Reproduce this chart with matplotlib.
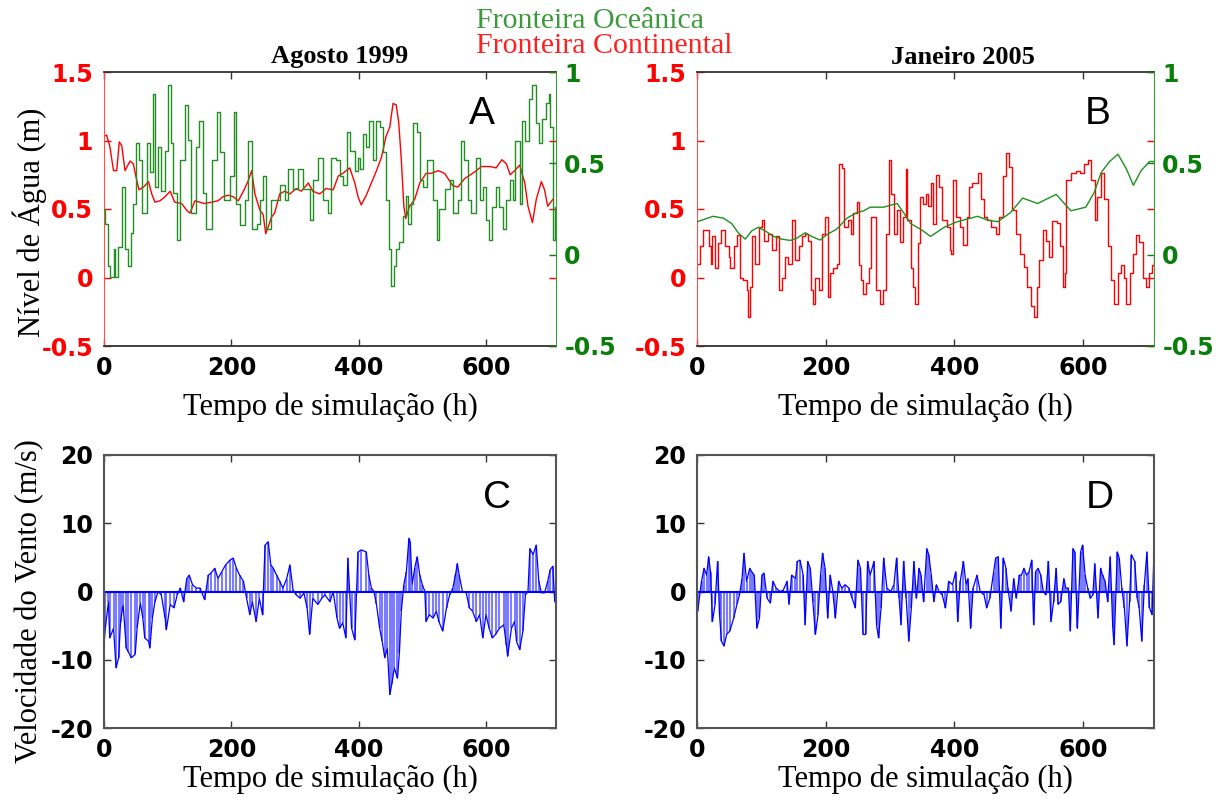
import matplotlib
matplotlib.use("Agg")
import matplotlib.pyplot as plt

# ---------------------------------------------------------------- data
# Water level (m) at the continental boundary (left axis) and at the
# oceanic boundary (right axis), simulation time in hours.
t_cont_aug = [0, 4, 9, 15, 20, 24, 28, 33, 41, 46, 50, 55, 62, 70, 75, 80, 88, 96, 104, 111,
              122, 130, 135, 143, 150, 158, 169, 179, 187, 195, 203, 211, 219, 226, 232, 237,
              245, 250, 254, 258, 263, 268, 276, 284, 292, 302, 310, 321, 328, 339, 349, 360,
              368, 375, 386, 394, 399, 404, 412, 420, 428, 436, 443, 449, 454, 459, 463, 467,
              471, 474, 480, 488, 496, 506, 514, 525, 535, 548, 556, 566, 579, 593, 606, 616,
              625, 632, 638, 645, 653, 661, 666, 673, 679, 687, 692, 697, 705]
h_cont_aug = [1.03, 1.04, 0.96, 0.78, 0.78, 0.99, 0.96, 0.78, 0.85, 0.83, 0.74, 0.64, 0.66, 0.70,
              0.61, 0.55, 0.56, 0.59, 0.63, 0.55, 0.54, 0.49, 0.47, 0.56, 0.55, 0.54, 0.55, 0.56,
              0.59, 0.60, 0.59, 0.56, 0.63, 0.70, 0.78, 0.61, 0.49, 0.46, 0.32, 0.37, 0.44, 0.47,
              0.61, 0.63, 0.61, 0.65, 0.63, 0.69, 0.63, 0.61, 0.65, 0.64, 0.74, 0.76, 0.80, 0.69,
              0.59, 0.53, 0.60, 0.69, 0.78, 0.88, 1.03, 1.10, 1.27, 1.26, 1.13, 0.86, 0.52, 0.43,
              0.52, 0.57, 0.69, 0.76, 0.76, 0.78, 0.76, 0.67, 0.66, 0.72, 0.76, 0.81, 0.81, 0.80,
              0.86, 0.83, 0.75, 0.78, 0.82, 0.69, 0.52, 0.40, 0.57, 0.70, 0.64, 0.52, 0.57]

t_ocean_aug = [0, 2, 7, 9, 15, 17, 22, 28, 33, 38, 43, 46, 51, 55, 59, 67, 72, 77, 80, 85, 90,
               96, 101, 105, 109, 114, 119, 127, 132, 137, 145, 150, 156, 161, 169, 177, 182,
               188, 198, 204, 208, 213, 221, 226, 232, 240, 245, 250, 255, 263, 271, 276, 284,
               289, 297, 305, 313, 323, 328, 336, 344, 352, 357, 365, 370, 375, 381, 386, 394,
               399, 402, 407, 412, 417, 423, 428, 433, 438, 443, 448, 451, 456, 459, 464, 470,
               475, 477, 483, 486, 491, 496, 501, 507, 512, 517, 523, 527, 535, 543, 548, 556,
               561, 566, 572, 577, 585, 590, 595, 600, 605, 610, 616, 621, 627, 632, 637, 642,
               646, 653, 657, 662, 667, 672, 678, 683, 688, 694, 699, 701, 705, 708]
h_ocean_aug = [0.25, 0.17, -0.06, -0.12, 0.03, -0.12, 0.04, 0.37, 0.03, -0.06, 0.12, 0.28, 0.61,
               0.52, 0.23, 0.61, 0.45, 0.88, 0.37, 0.59, 0.35, 0.57, 0.93, 0.61, 0.34, 0.08, 0.52,
               0.82, 0.63, 0.23, 0.59, 0.73, 0.34, 0.14, 0.52, 0.78, 0.56, 0.30, 0.43, 0.78, 0.28,
               0.16, 0.30, 0.62, 0.14, 0.17, 0.30, 0.43, 0.14, 0.30, 0.30, 0.38, 0.30, 0.47, 0.36,
               0.47, 0.36, 0.19, 0.41, 0.53, 0.30, 0.23, 0.53, 0.52, 0.43, 0.38, 0.67, 0.57, 0.46,
               0.53, 0.47, 0.66, 0.59, 0.73, 0.52, 0.73, 0.70, 0.56, 0.30, 0.03, -0.17, -0.06,
               0.03, 0.07, 0.21, 0.32, 0.17, 0.28, 0.72, 0.67, 0.41, 0.37, 0.52, 0.52, 0.30, 0.08,
               0.25, 0.36, 0.41, 0.23, 0.30, 0.62, 0.52, 0.30, 0.23, 0.53, 0.30, 0.37, 0.19, 0.08,
               0.26, 0.37, 0.26, 0.14, 0.30, 0.41, 0.30, 0.62, 0.28, 0.73, 0.62, 0.85, 0.93, 0.72,
               0.61, 0.74, 0.83, 0.88, 0.70, 0.08, 0.26]

t_cont_jan = [0, 5, 9, 15, 19, 21, 24, 28, 33, 38, 44, 49, 52, 57, 62, 67, 72, 77, 79, 83, 86,
              90, 96, 101, 104, 111, 116, 123, 127, 132, 137, 142, 147, 153, 158, 163, 168, 173,
              177, 180, 184, 189, 194, 199, 203, 206, 211, 217, 221, 225, 229, 234, 239, 243,
              248, 251, 255, 258, 262, 267, 270, 275, 278, 284, 289, 293, 298, 302, 306, 311,
              315, 320, 324, 327, 332, 336, 339, 343, 347, 351, 355, 359, 363, 367, 371, 376,
              381, 388, 393, 395, 398, 403, 409, 414, 419, 423, 428, 436, 441, 446, 451, 456,
              464, 469, 475, 480, 485, 490, 495, 502, 508, 513, 519, 523, 528, 532, 537, 542,
              547, 552, 559, 564, 568, 571, 574, 581, 589, 595, 602, 607, 612, 618, 622, 628,
              633, 638, 643, 648, 654, 659, 663, 667, 672, 677, 682, 687, 693, 698, 703, 707, 710]
h_cont_jan = [0.10, 0.23, 0.35, 0.35, 0.23, 0.10, 0.30, 0.07, 0.25, 0.35, 0.23, 0.15, 0.07, 0.23,
              0.31, 0.00, -0.02, -0.09, -0.29, -0.07, 0.30, 0.10, 0.37, 0.42, 0.27, 0.32, 0.20,
              0.30, -0.09, 0.00, 0.15, 0.10, 0.42, 0.13, 0.23, 0.30, 0.32, 0.27, -0.09, -0.19,
              0.00, -0.09, 0.32, 0.44, -0.14, 0.03, 0.07, 0.10, 0.83, 0.80, 0.37, 0.42, 0.32,
              0.47, 0.55, 0.09, -0.02, -0.12, -0.04, 0.07, 0.44, 0.44, -0.09, -0.19, -0.09, 0.32,
              0.86, 0.61, 0.32, 0.49, 0.26, 0.44, 0.79, 0.42, 0.07, -0.07, -0.19, 0.25, 0.59,
              0.54, 0.61, 0.52, 0.69, 0.39, 0.75, 0.66, 0.42, 0.37, 0.20, 0.17, 0.71, 0.44, 0.37,
              0.24, 0.44, 0.66, 0.69, 0.76, 0.57, 0.44, 0.42, 0.37, 0.32, 0.44, 0.74, 0.91, 0.81,
              0.49, 0.32, 0.17, 0.08, -0.07, -0.21, -0.29, -0.07, 0.13, 0.35, 0.27, 0.15, 0.41,
              0.40, 0.23, -0.07, 0.03, 0.71, 0.76, 0.78, 0.76, 0.83, 0.86, 0.71, 0.42, 0.59, 0.76,
              0.57, 0.23, -0.02, -0.19, 0.03, 0.09, 0.00, -0.19, 0.03, 0.17, 0.31, 0.26, 0.00,
              -0.07, 0.03, 0.09, 0.15]

t_ocean_jan = [0, 25, 41, 54, 64, 75, 85, 95, 106, 119, 132, 145, 155, 168, 178, 191, 202, 217,
               233, 248, 259, 269, 290, 300, 311, 321, 332, 347, 363, 384, 404, 436, 451, 467,
               487, 506, 529, 558, 581, 604, 617, 628, 641, 654, 667, 678, 690, 703, 711]
h_ocean_jan = [0.18, 0.21, 0.20, 0.17, 0.12, 0.085, 0.13, 0.15, 0.13, 0.10, 0.085, 0.078, 0.09,
               0.12, 0.10, 0.08, 0.11, 0.14, 0.20, 0.23, 0.24, 0.26, 0.26, 0.27, 0.28, 0.23, 0.17,
               0.14, 0.10, 0.15, 0.18, 0.21, 0.19, 0.18, 0.23, 0.31, 0.28, 0.33, 0.24, 0.26, 0.34,
               0.45, 0.51, 0.55, 0.47, 0.38, 0.46, 0.51, 0.51]

# Wind velocity (m/s)
t_wind_aug = [0, 2, 7, 9, 15, 19, 23, 26, 30, 35, 38, 43, 49, 52, 57, 61, 64, 70, 72, 76, 80,
              85, 90, 96, 98, 104, 110, 115, 120, 125, 130, 134, 139, 145, 151, 158, 164, 168,
              174, 179, 185, 191, 198, 203, 208, 213, 219, 224, 229, 233, 239, 244, 249, 253,
              258, 262, 266, 271, 276, 281, 287, 292, 297, 302, 308, 314, 319, 323, 328, 336,
              342, 347, 355, 360, 366, 370, 375, 380, 383, 389, 394, 399, 404, 412, 416, 420,
              424, 428, 433, 437, 441, 445, 449, 452, 456, 461, 464, 467, 471, 475, 479, 481,
              484, 488, 492, 496, 500, 504, 506, 511, 517, 522, 526, 532, 538, 543, 548, 552,
              555, 558, 563, 569, 574, 579, 585, 590, 595, 600, 605, 610, 615, 621, 628, 632,
              634, 640, 645, 648, 653, 658, 662, 666, 669, 674, 679, 683, 687, 692, 697, 701,
              705, 708]
w_wind_aug = [-7.8, -5.4, -1.5, -6.8, -5.4, -11.2, -9.7, -4.4, -1.9, -8.3, -8.8, -9.7, -9.2,
              -5.4, -1.7, -3.9, -6.8, -7.3, -8.3, -3.9, -1.5, 0.0, -0.5, -3.9, -5.6, -1.9, -2.4,
              -0.5, 0.5, -1.5, 1.9, 2.4, 1.0, 0.5, 0.5, -1.2, 2.4, 2.7, 3.4, 1.9, 2.9, 3.9, 4.6,
              4.9, 3.4, 2.4, 1.5, -1.0, -3.4, -1.5, -4.4, -1.0, -3.4, 6.8, 7.3, 3.9, 3.4, 2.4,
              1.5, 0.5, 1.9, 3.9, 0.2, -0.5, -1.0, -0.2, -2.4, -6.3, -1.0, -1.9, -1.0, -0.5,
              -1.5, 0.0, -3.9, -5.4, -4.6, -6.8, 4.9, -5.4, -7.1, 5.8, 6.1, 5.8, 2.4, 0.5, 0.0,
              -1.9, -5.4, -7.3, -9.7, -8.3, -15.1, -13.6, -11.2, -12.7, -9.0, -2.9, 1.0, 2.9,
              7.8, 7.3, 1.0, 3.4, 5.1, 2.4, 1.0, 0.0, -4.4, -3.4, -3.9, -2.9, -4.4, -5.8, -2.4,
              -0.5, 0.5, 2.4, 4.1, 2.4, 0.0, -0.2, -2.4, -2.9, -4.4, -3.4, -6.8, -3.4, -5.4,
              -6.8, -6.3, -5.4, -4.9, -7.8, -9.5, -5.4, -4.4, -7.3, -8.5, -5.8, -0.5, 0.0, 6.3,
              5.4, 6.8, 1.5, -0.2, -0.2, 1.5, 3.2, 3.7, -1.5]

t_wind_jan = [1, 7, 11, 15, 18, 21, 24, 28, 32, 35, 38, 42, 46, 51, 57, 62, 66, 70, 73, 77, 82,
              85, 89, 93, 97, 101, 104, 109, 114, 118, 123, 129, 134, 140, 143, 147, 153, 156,
              160, 165, 168, 172, 176, 180, 184, 188, 192, 195, 199, 203, 207, 211, 215, 220,
              225, 230, 236, 241, 246, 250, 254, 258, 262, 265, 269, 275, 279, 282, 286, 290,
              295, 301, 306, 310, 314, 317, 321, 325, 329, 333, 337, 341, 345, 348, 352, 357,
              360, 364, 368, 372, 376, 381, 386, 391, 397, 402, 405, 409, 414, 418, 421, 425,
              429, 435, 440, 446, 450, 455, 461, 464, 468, 472, 476, 480, 483, 488, 492, 496,
              501, 504, 508, 512, 516, 520, 523, 526, 530, 534, 538, 542, 546, 550, 554, 558,
              561, 565, 570, 573, 577, 580, 584, 587, 591, 596, 599, 603, 607, 611, 615, 618,
              623, 627, 630, 634, 638, 642, 646, 648, 653, 656, 660, 664, 668, 672, 675, 680,
              684, 687, 691, 695, 699, 703, 707, 710]
w_wind_jan = [-2.9, 1.5, 3.4, 2.4, 5.1, 2.9, -4.4, -1.9, 4.4, -3.4, -7.3, -8.0, -6.3, -5.8,
              -3.9, -1.9, -0.5, 1.9, 5.6, 1.5, 3.4, 2.9, 2.4, -5.4, -3.9, 2.4, 2.7, -1.0, -1.7,
              1.5, 0.5, 0.0, 0.2, 1.5, -1.9, 2.4, 1.9, 4.4, 4.6, 2.4, -4.9, 4.4, 3.4, -1.5, -6.3,
              -3.4, 2.4, 5.6, 3.4, -3.9, 2.4, 0.0, -3.9, 1.5, 0.5, 1.0, 0.5, -1.0, -2.4, 4.6,
              3.4, -6.3, -6.3, 4.4, 2.4, 4.4, -4.9, -6.8, -2.4, 4.9, 0.5, 0.0, 1.0, 4.9, -1.0,
              -4.9, 4.4, -1.0, -7.3, -2.4, 4.4, -1.0, 3.4, 2.4, -1.5, 6.3, 5.4, 2.4, -1.5, 1.0,
              0.0, -0.5, -2.4, 1.5, 1.0, 2.9, -4.4, 1.5, 4.4, 1.0, 1.9, -5.4, 0.5, 2.4, 0.0,
              -0.5, -2.4, -1.0, 2.9, 4.9, 5.1, -5.4, 4.9, 3.4, 0.5, -2.9, 1.9, -1.0, 2.4, 2.4,
              3.4, 2.4, 2.9, 4.6, -4.9, 2.9, 3.4, 2.4, 0.0, -0.5, 4.4, -4.4, -1.5, 3.4, -1.9,
              -1.5, 1.9, 0.5, 0.5, -5.8, 6.3, 5.8, -5.4, 5.8, 6.8, 2.4, 0.5, -1.0, -0.5, 4.1,
              -3.9, 3.4, 2.4, 1.5, -1.5, 5.1, -5.4, -7.8, 5.8, 4.9, 0.5, -2.4, -8.0, -1.5, 5.4,
              4.4, -1.0, -2.4, -7.3, 1.0, 5.8, -2.4, -3.4, 5.8]

time_ticks = [0, 200, 400, 600]
level_ticks = [-0.5, 0, 0.5, 1, 1.5]
ocean_ticks = [-0.5, 0, 0.5, 1]
wind_ticks = [-20, -10, 0, 10, 20]

# ---------------------------------------------------------------- style
RED = "#ff0000"
GREEN = "#0a7d0a"
LINE_GREEN = "#1f8f1f"
BLUE = "#0000ff"
FRAME = "#333333"
SERIF = ["Liberation Serif", "DejaVu Serif"]
TICKFONT = dict(family="DejaVu Sans", fontweight="bold", fontsize=17)
LABELSIZE = 22

W, H = 1218, 800
fig = plt.figure(figsize=(W / 100, H / 100), dpi=100)
fig.patch.set_facecolor("white")


def box(x0, y0, x1, y1):
    return [x0 / W, 1 - y1 / H, (x1 - x0) / W, (y1 - y0) / H]


def fmt(v):
    return "%g" % v


def style_time_axis(ax, labelpad):
    ax.set_xlim(0, 710)
    ax.set_xticks(time_ticks, [fmt(v) for v in time_ticks], color="black", **TICKFONT)
    ax.tick_params(axis="x", direction="in", length=5, width=1, top=True,
                   colors=FRAME, labelcolor="black", pad=7)
    ax.set_xlabel("Tempo de simulação (h)", family=SERIF, fontsize=LABELSIZE,
                  labelpad=labelpad)


def level_panel(rect, t_c, h_c, t_o, h_o, steps_c, steps_o, letter):
    ax = fig.add_axes(rect)
    ax2 = ax.twinx()
    ax.plot(t_c, h_c, color=RED, lw=1.0, drawstyle=steps_c)
    ax2.plot(t_o, h_o, color=LINE_GREEN, lw=1.0, drawstyle=steps_o)
    ax.set_ylim(-0.5, 1.5)
    ax2.set_ylim(-0.5, 1.0)
    style_time_axis(ax, 9)
    ax.set_yticks(level_ticks, [fmt(v) for v in level_ticks], color=RED, **TICKFONT)
    ax.tick_params(axis="y", direction="in", length=5, width=1, left=True, right=True,
                   labelleft=True, labelright=False, colors=RED, pad=8)
    ax2.set_yticks(ocean_ticks, [fmt(v) for v in ocean_ticks], color=GREEN, **TICKFONT)
    ax2.tick_params(axis="y", direction="in", length=5, width=1, colors=GREEN, pad=6)
    for s in ("top", "bottom"):
        ax.spines[s].set_color(FRAME)
        ax.spines[s].set_linewidth(1.3)
        ax2.spines[s].set_visible(False)
    ax.spines["left"].set_color("#ff5050")
    ax.spines["right"].set_visible(False)
    ax2.spines["left"].set_visible(False)
    ax2.spines["right"].set_color("#3a9a3a")
    ax.text(*letter[1:], letter[0], transform=ax.transAxes, ha="center", va="center",
            fontsize=28, family="Liberation Sans")
    return ax


def wind_panel(rect, t, w, letter):
    ax = fig.add_axes(rect)
    ax.vlines(t, 0, w, color="#4646ff", lw=1.5, alpha=0.7)
    ax.plot(t, w, color=BLUE, lw=0.9)
    ax.axhline(0, color=BLUE, lw=1.5)
    ax.set_ylim(-20, 20)
    style_time_axis(ax, 2)
    ax.set_yticks(wind_ticks, [fmt(v) for v in wind_ticks], color="black", **TICKFONT)
    ax.tick_params(axis="y", direction="in", length=5, width=1, right=True,
                   colors=FRAME, labelcolor="black", pad=8)
    for s in ax.spines.values():
        s.set_color("#555555")
        s.set_linewidth(1.5)
    ax.text(*letter[1:], letter[0], transform=ax.transAxes, ha="center", va="center",
            fontsize=28, family="Liberation Sans")
    return ax


level_panel(box(104, 72, 556, 346), t_cont_aug, h_cont_aug, t_ocean_aug, h_ocean_aug,
            "default", "steps-post", ("A", 0.836, 0.847))
level_panel(box(697, 72, 1154, 346), t_cont_jan, h_cont_jan, t_ocean_jan, h_ocean_jan,
            "steps-post", "default", ("B", 0.877, 0.847))
wind_panel(box(104, 455, 556, 728), t_wind_aug, w_wind_aug, ("C", 0.869, 0.844))
wind_panel(box(697, 455, 1154, 728), t_wind_jan, w_wind_jan, ("D", 0.882, 0.842))

# Titles, series names and shared y labels
fig.text(340 / W, 1 - 57 / H, "Agosto 1999", ha="center", va="center",
         family=SERIF, fontweight="bold", fontsize=19)
fig.text(963 / W, 1 - 57 / H, "Janeiro 2005", ha="center", va="center",
         family=SERIF, fontweight="bold", fontsize=19)
fig.text(476 / W, 1 - 21 / H, "Fronteira Oceânica", ha="left", va="center",
         family=SERIF, fontsize=21.5, color="#3c9a3c")
fig.text(476 / W, 1 - 46 / H, "Fronteira Continental", ha="left", va="center",
         family=SERIF, fontsize=21.5, color="#ff2020")
fig.text(30 / W, 1 - 222 / H, "Nível de Água (m)", rotation=90, ha="center", va="center",
         family=SERIF, fontsize=LABELSIZE)
fig.text(30 / W, 1 - 601 / H, "Velocidade do Vento (m/s)", rotation=90, ha="center",
         va="center", family=SERIF, fontsize=LABELSIZE)

fig.savefig("out.png", dpi=100, facecolor="white")
